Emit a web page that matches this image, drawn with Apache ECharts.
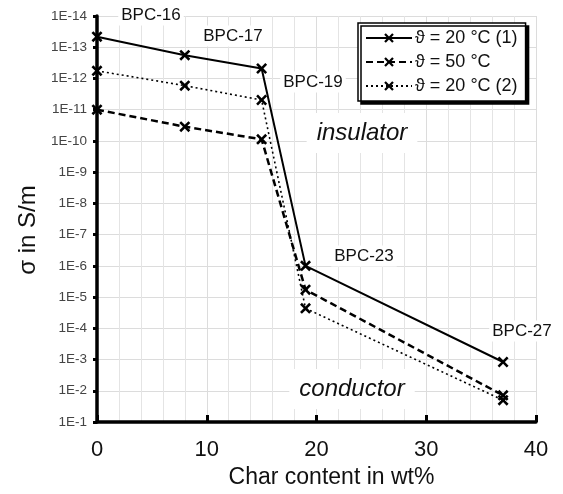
<!DOCTYPE html>
<html>
<head>
<meta charset="utf-8">
<script src="https://cdn.jsdelivr.net/npm/echarts@6/dist/echarts.min.js"></script>
<style>
  html, body { margin: 0; padding: 0; background: #fff; }
  #chart { width: 563px; height: 494px; }
</style>
</head>
<body>
<div id="chart"></div>
<script>
// char content of the samples (wt%)
var charContent = [0, 8, 15, 19, 37];
var sampleNames = ['BPC-16', 'BPC-17', 'BPC-19', 'BPC-23', 'BPC-27'];

// sigma in S/m
var sigma20a = [4.6e-14, 1.8e-13, 4.8e-13, 1.0e-6, 1.2e-3];
var sigma50 = [1.0e-11, 3.5e-11, 8.9e-11, 5.8e-6, 1.4e-2];
var sigma20b = [5.7e-13, 1.7e-12, 4.9e-12, 2.3e-5, 2.0e-2];

var seriesNames = ['ϑ = 20 °C (1)', 'ϑ = 50 °C', 'ϑ = 20 °C (2)'];

var FONT = '"Liberation Sans", Arial, sans-serif';
// filled "x" marker
var crossSymbol = 'path://M0,2L2,0L6,4L10,0L12,2L8,6L12,10L10,12L6,8L2,12L0,10L4,6Z';

function pairs(ys) {
  return charContent.map(function (x, i) { return [x, ys[i]]; });
}

function makeSeries(name, ys, lineType, width) {
  return {
    name: name,
    type: 'line',
    data: pairs(ys),
    symbol: crossSymbol,
    symbolSize: 11,
    showAllSymbol: true,
    z: 3,
    itemStyle: { color: '#000' },
    lineStyle: { color: '#000', width: width, type: lineType },
    emphasis: { disabled: true }
  };
}

var chart = echarts.init(document.getElementById('chart'));

// annotation texts (white boxes hide the grid behind them)
function note(text, x, y, size, italic) {
  return {
    type: 'text',
    x: x, y: y, z: 1,
    style: {
      text: text,
      font: (italic ? 'italic ' : '') + size + 'px ' + FONT,
      fill: '#111',
      align: 'center',
      verticalAlign: 'middle',
      backgroundColor: '#fff',
      padding: italic ? [8, 10] : [2, 3]
    }
  };
}

var option = {
  animation: false,
  textStyle: { fontFamily: FONT },
  grid: { left: 97, right: 27, top: 16, bottom: 72, containLabel: false },
  legend: {
    data: seriesNames,
    orient: 'vertical',
    left: 358,
    top: 23,
    padding: [6, 8, 6, 7],
    itemGap: 6,
    itemWidth: 46,
    itemHeight: 12,
    backgroundColor: '#fff',
    borderColor: '#000',
    borderWidth: 1.5,
    shadowColor: '#000',
    shadowOffsetX: 3,
    shadowOffsetY: 3,
    shadowBlur: 0,
    z: 5,
    textStyle: { fontSize: 18, color: '#111', fontFamily: FONT, padding: [0, 0, 0, -2] }
  },
  xAxis: {
    type: 'value',
    min: 0,
    max: 40,
    interval: 10,
    name: 'Char content in wt%',
    nameLocation: 'middle',
    nameGap: 40,
    nameTextStyle: { fontSize: 23, color: '#111', padding: [0, 0, 0, 30] },
    axisLine: { lineStyle: { color: '#000', width: 3.5 } },
    axisTick: { inside: true, length: 7, lineStyle: { color: '#000', width: 3 } },
    axisLabel: { fontSize: 22, color: '#111', margin: 17 },
    splitLine: { show: true, lineStyle: { color: '#dcdcdc', width: 1 } },
    minorTick: { show: false, splitNumber: 5 },
    minorSplitLine: { show: true, lineStyle: { color: '#e4e4e4', width: 1 } }
  },
  yAxis: {
    type: 'log',
    logBase: 10,
    min: 1e-14,
    max: 1e-1,
    interval: 1,
    inverse: true,
    name: 'σ in S/m',
    nameLocation: 'middle',
    nameGap: 53,
    nameTextStyle: { fontSize: 24, color: '#111', padding: [0, 22, 0, 0] },
    axisLine: { lineStyle: { color: '#000', width: 3.5 } },
    axisTick: { length: 4, lineStyle: { color: '#000', width: 3 } },
    axisLabel: {
      fontSize: 13.5,
      color: '#444',
      margin: 10,
      showMinLabel: true,
      showMaxLabel: true,
      formatter: function (v) { return '1E' + Math.round(Math.log10(v)); }
    },
    splitLine: { show: true, lineStyle: { color: '#dcdcdc', width: 1 } }
  },
  graphic: [
    note(sampleNames[0], 151, 15, 17),
    note(sampleNames[1], 233, 36, 17),
    note(sampleNames[2], 313, 82, 17),
    note(sampleNames[3], 364, 256, 17),
    note(sampleNames[4], 522, 331, 17),
    note('insulator', 362, 133, 24, true),
    note('conductor', 352, 389, 24, true)
  ],
  series: [
    makeSeries(seriesNames[0], sigma20a, 'solid', 2),
    makeSeries(seriesNames[1], sigma50, [7, 4], 2.5),
    makeSeries(seriesNames[2], sigma20b, [2, 3], 1.6)
  ]
};

chart.setOption(option);
</script>
</body>
</html>
